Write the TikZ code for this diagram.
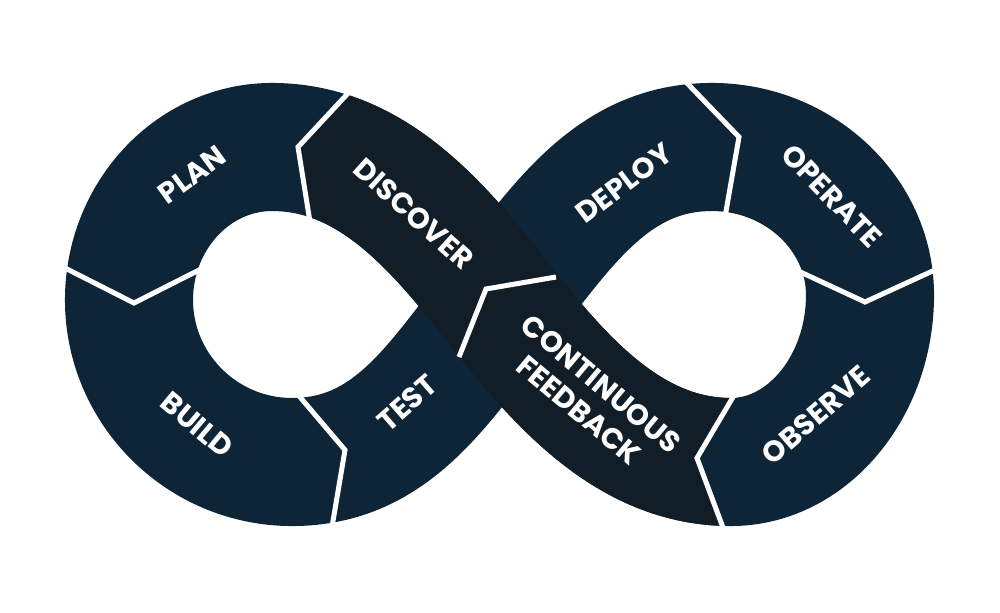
\documentclass[tikz,border=0pt]{standalone}
\usepackage{fontspec}
\setmainfont{Poppins}
\usepackage{xcolor}
\definecolor{Navy} {HTML}{0D2536}
\definecolor{NavyD}{HTML}{111D27}
\tikzset{
  band/.style args={#1}{
    draw=#1, line width=1.28cm, line join=round,
  },
  divider/.style={
    draw=white, line width=0.05cm, line join=miter,
  },
  stage/.style args={#1}{
    text=white, font=\fontsize{8.3}{9.8}\selectfont\bfseries,
    align=center, inner sep=0pt, rotate=#1,
  },
}

\begin{document}
\begin{tikzpicture}[x=0.01cm,y=-0.01cm]
  \useasboundingbox (0,0) rectangle (1000,612);
  % centre line of the loop
  \coordinate (x)  at (500,305);
  \coordinate (tr) at (712,147);
  \coordinate (rr) at (870,295);
  \coordinate (br) at (731,462);
  \coordinate (tl) at (272,147);
  \coordinate (ll) at (129,300);
  \coordinate (bl) at (292,462);

  \draw[band=Navy] (x) .. controls (562,226) and (612,147) .. (tr)
    .. controls (799,147) and (870,214) .. (rr)
    .. controls (870,387) and (807,462) .. (br)
    .. controls (631,462) and (562,384) .. (x)
    .. controls (438,226) and (372,147) .. (tl)
    .. controls (193,147) and (129,216) .. (ll)
    .. controls (129,389) and (202,462) .. (bl)
    .. controls (392,462) and (438,384) .. (x) -- cycle;

  % discover / feedback strand lies on top
  \begin{scope}
    \clip (373,0) -- (373,66) -- (348,93) -- (298,147) -- (309,216) -- (314,250)
      -- (460,612) -- (736,612) -- (736,560) -- (723,527) -- (697,458)
      -- (733,397) -- (751,366) -- (760,0) -- cycle;
    \draw[band=NavyD] (rr) .. controls (870,387) and (807,462) .. (br)
      .. controls (631,462) and (562,384) .. (x)
      .. controls (438,226) and (372,147) .. (tl)
      .. controls (193,147) and (129,216) .. (ll);
  \end{scope}

  \draw[divider] (352,89) -- (298,147) -- (310,222);
  \draw[divider] (63,267) -- (134,303) -- (205,267);
  \draw[divider] (294,390) -- (345,450) -- (331,533);
  \draw[divider] (684,80) -- (739,137) -- (725,217);
  \draw[divider] (796,270) -- (865,302) -- (937,269);
  \draw[divider] (736,392) -- (697,458) -- (725,533);
  \draw[divider] (556,277) -- (486,289) -- (459,357);

  \node[stage=36]  (plan)     at (192,175) {PLAN};
  \node[stage=-42] (discover) at (414,214) {DISCOVER};
  \node[stage=-40] (build)    at (197,425) {BUILD};
  \node[stage=41]  (test)     at (407,403) {TEST};
  \node[stage=37]  (deploy)   at (624,183) {DEPLOY};
  \node[stage=-46] (operate)  at (832,196) {OPERATE};
  \node[stage=41]  (observe)  at (816,415) {OBSERVE};
  \node[stage=-40] (feedback) at (590,397) {CONTINUOUS\\FEEDBACK};
\end{tikzpicture}
\end{document}
